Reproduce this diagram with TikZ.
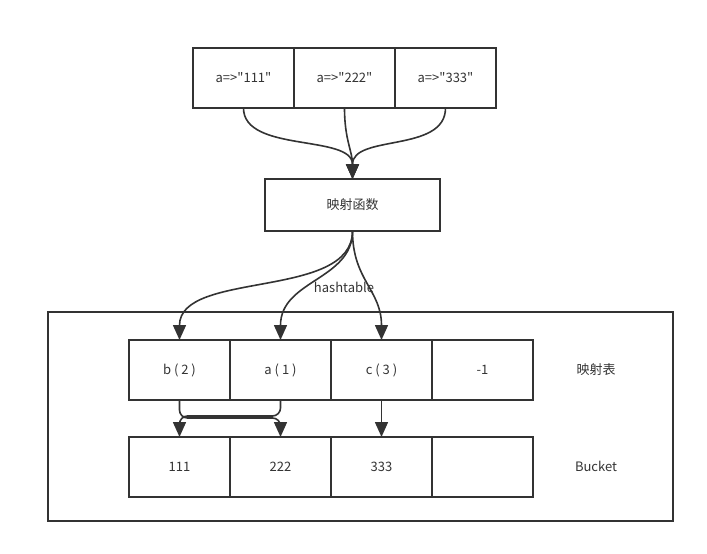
\documentclass[tikz,border=0pt]{standalone}
\usepackage{fontspec}
\newfontfamily\uifont{Noto Sans CJK SC}
\usepackage{xcolor}
\usetikzlibrary{arrows.meta}
\definecolor{ink}{HTML}{333333}

\begin{document}
\begin{tikzpicture}[x=1pt, y=-1pt, font=\uifont\fontsize{13}{15}\selectfont, text=ink,
        cell/.style={draw=ink, line width=1.6pt, outer sep=0pt, minimum width=101pt, minimum height=60pt},
        link/.style={draw=ink, line width=1.6pt, -{Triangle[length=15pt, width=13pt]}}]
        \useasboundingbox (0,0) rectangle (707,554);

        % Keys
        \node[cell] (k1) at (243.5,78) {a=>"111"};
        \node[cell] (k2) at (344.5,78) {a=>"222"};
        \node[cell] (k3) at (445.5,78) {a=>"333"};

        % Hash function
        \node[cell, minimum width=175pt, minimum height=52pt] (hash) at (352.5,205) {映射函数};

        % Table frame
        \node[cell, minimum width=625pt, minimum height=209pt] (tbl) at (360.5,416.5) {};

        % Mapping row
        \node[cell] (b2) at (179.5,370) {b ( 2 )};
        \node[cell] (a1) at (280.5,370) {a ( 1 )};
        \node[cell] (c3) at (381.5,370) {c ( 3 )};
        \node[cell] (m4) at (482.5,370) {-1};
        \node (maplbl) at (596,370) {映射表};

        % Buckets
        \node[cell] (v111) at (179.5,467) {111};
        \node[cell] (v222) at (280.5,467) {222};
        \node[cell] (v333) at (381.5,467) {333};
        \node[cell] (v4) at (482.5,467) {};
        \node (bktlbl) at (596,466) {Bucket};

        % Connections
        \draw[link] (k1.south) .. controls +(0,45) and +(0,-45) .. (hash.north);
        \draw[link] (k2.south) .. controls +(0,32) and +(0,-28) .. (hash.north);
        \draw[link] (k3.south) .. controls +(0,45) and +(0,-45) .. (hash.north);

        \draw[link] (hash.south) .. controls +(0,69) and +(0,-70) .. (b2.north);
        \draw[link] (hash.south) .. controls +(0,49) and +(0,-60) .. (a1.north);
        \draw[link] (hash.south) .. controls +(0,49) and +(0,-50) .. (c3.north);
        \node (hlbl) at (344,287) {hashtable};

        \draw[link, rounded corners=8pt] (b2.south) -- ++(0,18) -| (v222.north);
        \draw[link, rounded corners=8pt] (a1.south) -- ++(0,16) -| (v111.north);
        \draw[link] (c3.south) -- (v333.north);
    \end{tikzpicture}
\end{document}
